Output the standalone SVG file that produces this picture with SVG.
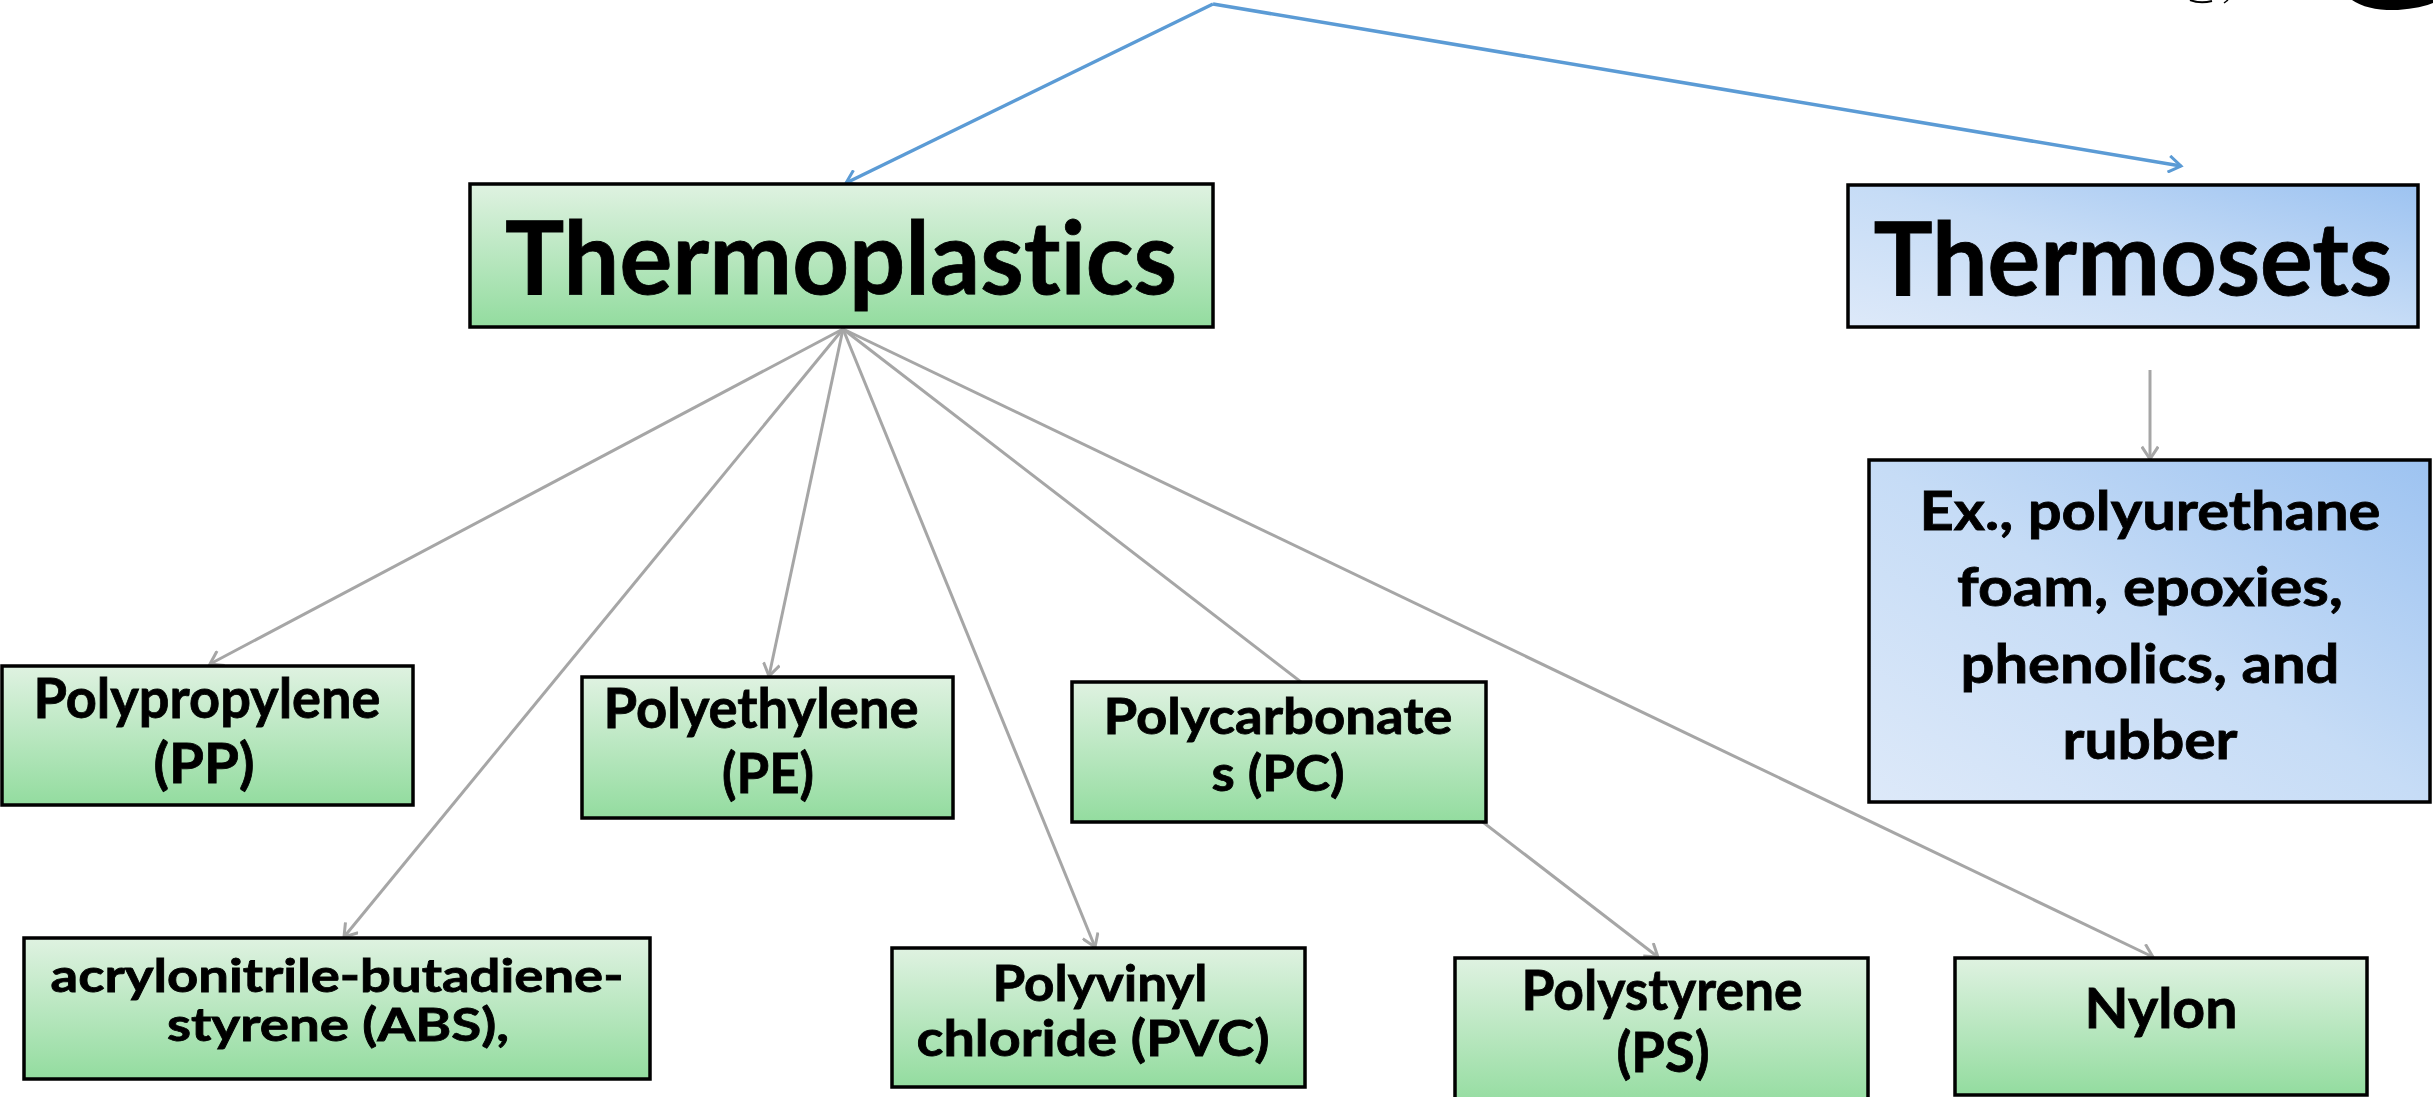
<svg xmlns="http://www.w3.org/2000/svg" width="2433" height="1097" viewBox="0 0 2433 1097">
  <defs>
    <linearGradient id="gGreen" x1="0" y1="0" x2="0" y2="1">
      <stop offset="0" stop-color="#dff2e1"/>
      <stop offset="1" stop-color="#93dc9f"/>
    </linearGradient>
    <linearGradient id="gBlue" x1="0" y1="1" x2="1" y2="0">
      <stop offset="0" stop-color="#dde9f9"/>
      <stop offset="0.5" stop-color="#c6dcf6"/>
      <stop offset="1" stop-color="#9dc3f1"/>
    </linearGradient>
    <marker id="arrGrey" viewBox="0 0 18 18" refX="15" refY="9" markerWidth="18" markerHeight="18" markerUnits="userSpaceOnUse" orient="auto">
      <path d="M2.7,0.8 L15,9 L2.7,17.2" fill="none" stroke="#a6a6a6" stroke-width="3"/>
    </marker>
    <marker id="arrBlue" viewBox="0 0 18 18" refX="15" refY="9" markerWidth="18" markerHeight="18" markerUnits="userSpaceOnUse" orient="auto">
      <path d="M2.7,0.8 L15,9 L2.7,17.2" fill="none" stroke="#5b9bd5" stroke-width="3"/>
    </marker>
  </defs>
  <style>
    .box { stroke: #000; stroke-width: 3.5; }
    .green { fill: url(#gGreen); }
    .blue { fill: url(#gBlue); }
    .t { font-family: Lato, "Open Sans", "Liberation Sans", sans-serif; font-weight: 700; fill: #000; stroke: #000; stroke-width: 0.8; text-anchor: middle; font-variant-ligatures: none; font-feature-settings: "liga" 0, "clig" 0; }
    .grey { stroke: #a6a6a6; stroke-width: 3; fill: none; marker-end: url(#arrGrey); }
    .bl { stroke: #5b9bd5; stroke-width: 3.5; fill: none; marker-end: url(#arrBlue); }
  </style>
  <rect width="2433" height="1097" fill="#ffffff"/>

  <!-- partial black marks at top-right edge -->
  <path d="M2352,0 Q2368,11 2398,10 Q2422,8 2433,3 L2433,0 Z" fill="#000"/>
  <path d="M2190,0 Q2200,4 2212,1" fill="none" stroke="#000" stroke-width="2"/>
  <path d="M2224,3 L2228,0" fill="none" stroke="#000" stroke-width="1.5"/>

  <g id="connectors">
    <line class="bl" x1="1213" y1="4" x2="846" y2="183"/>
    <line class="bl" x1="1213" y1="4" x2="2181" y2="166"/>
    <line class="grey" x1="843" y1="329" x2="210" y2="664"/>
    <line class="grey" x1="843" y1="329" x2="344" y2="937"/>
    <line class="grey" x1="843" y1="329" x2="769" y2="676"/>
    <line class="grey" x1="843" y1="329" x2="1095" y2="947"/>
    <line class="grey" x1="843" y1="329" x2="1658" y2="957"/>
    <line class="grey" x1="843" y1="329" x2="2153" y2="957"/>
    <line class="grey" x1="2150" y1="370" x2="2150" y2="459"/>
  </g>

  <g id="thermoplastics">
    <rect class="box green" x="470" y="184" width="743" height="143"/>
    <text class="t" x="841" y="294" font-size="102" textLength="672" lengthAdjust="spacingAndGlyphs">Thermoplastics</text>
  </g>

  <g id="thermosets">
    <rect class="box blue" x="1848" y="185" width="570" height="142"/>
    <text class="t" x="2133" y="295" font-size="102" textLength="519" lengthAdjust="spacingAndGlyphs">Thermosets</text>
  </g>

  <g id="thermoset-examples">
    <rect class="box blue" x="1869" y="460" width="561" height="342"/>
    <text class="t" x="2150" y="530" font-size="54" textLength="461" lengthAdjust="spacingAndGlyphs">Ex., polyurethane</text>
    <text class="t" x="2150" y="606" font-size="54" textLength="386" lengthAdjust="spacingAndGlyphs">foam, epoxies,</text>
    <text class="t" x="2150" y="683" font-size="54" textLength="379" lengthAdjust="spacingAndGlyphs">phenolics, and</text>
    <text class="t" x="2150" y="759" font-size="54" textLength="175" lengthAdjust="spacingAndGlyphs">rubber</text>
  </g>

  <g id="polypropylene">
    <rect class="box green" x="2" y="666" width="411" height="139"/>
    <text class="t" x="207" y="718" font-size="56" textLength="347" lengthAdjust="spacingAndGlyphs">Polypropylene</text>
    <text class="t" x="204" y="783" font-size="56" textLength="101" lengthAdjust="spacingAndGlyphs">(PP)</text>
  </g>

  <g id="polyethylene">
    <rect class="box green" x="582" y="677" width="371" height="141"/>
    <text class="t" x="761" y="728" font-size="56" textLength="315" lengthAdjust="spacingAndGlyphs">Polyethylene</text>
    <text class="t" x="768" y="793" font-size="56" textLength="92" lengthAdjust="spacingAndGlyphs">(PE)</text>
  </g>

  <g id="polycarbonates">
    <rect class="box green" x="1072" y="682" width="414" height="140"/>
    <text class="t" x="1278" y="734" font-size="50" textLength="349" lengthAdjust="spacingAndGlyphs">Polycarbonate</text>
    <text class="t" x="1278" y="791" font-size="50" textLength="133" lengthAdjust="spacingAndGlyphs">s (PC)</text>
  </g>

  <g id="abs">
    <rect class="box green" x="24" y="938" width="626" height="141"/>
    <text class="t" x="337" y="992" font-size="45" textLength="573" lengthAdjust="spacingAndGlyphs">acrylonitrile-butadiene-</text>
    <text class="t" x="338" y="1041" font-size="45" textLength="342" lengthAdjust="spacingAndGlyphs">styrene (ABS),</text>
  </g>

  <g id="pvc">
    <rect class="box green" x="892" y="948" width="413" height="139"/>
    <text class="t" x="1100" y="1001" font-size="49" textLength="215" lengthAdjust="spacingAndGlyphs">Polyvinyl</text>
    <text class="t" x="1093" y="1056" font-size="49" textLength="353" lengthAdjust="spacingAndGlyphs">chloride (PVC)</text>
  </g>

  <g id="polystyrene">
    <rect class="box green" x="1455" y="958" width="413" height="150"/>
    <text class="t" x="1662" y="1010" font-size="56" textLength="281" lengthAdjust="spacingAndGlyphs">Polystyrene</text>
    <text class="t" x="1663" y="1072" font-size="56" textLength="93" lengthAdjust="spacingAndGlyphs">(PS)</text>
  </g>

  <g id="nylon">
    <rect class="box green" x="1955" y="958" width="412" height="137"/>
    <text class="t" x="2161" y="1028" font-size="56" textLength="153" lengthAdjust="spacingAndGlyphs">Nylon</text>
  </g>
</svg>
